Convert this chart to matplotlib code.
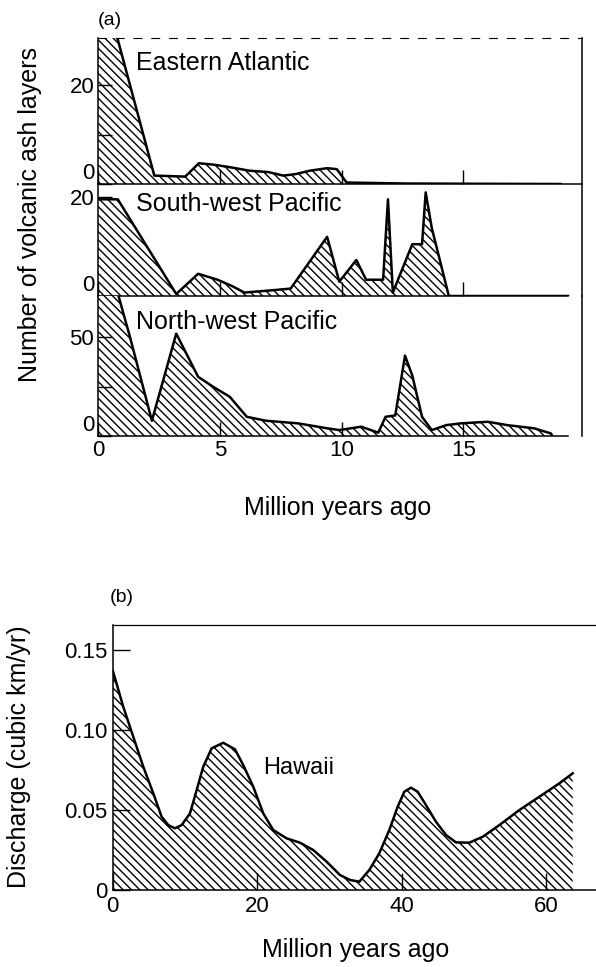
import numpy as np
import matplotlib
matplotlib.use("Agg")
import matplotlib.pyplot as plt

plt.rcParams['font.family'] = ['Liberation Sans', 'DejaVu Sans']
plt.rcParams['hatch.linewidth'] = 1.0

# ---- data ----
# (a) number of volcanic ash layers vs million years ago
ea_x = [0, 0.7, 2.3, 3.57, 4.13, 4.76, 5.4, 6.2, 7.0, 7.6, 8.1, 8.7, 9.4, 9.8, 10.2, 12.7, 19.0]
ea_y = [33, 31, 1.7, 1.5, 4.2, 3.9, 3.4, 2.7, 2.4, 1.7, 2.0, 2.7, 3.2, 3.0, 0.3, 0.1, 0]

sw_x = [0, 0.8, 3.2, 4.1, 4.9, 5.5, 6.0, 7.0, 7.9, 9.4, 9.9, 10.6, 11.0, 11.7, 11.9, 12.1,
        12.9, 13.3, 13.45, 13.7, 14.4, 19.3]
sw_y = [19.6, 19.6, 0.4, 4.5, 3.3, 2.0, 0.7, 1.1, 1.5, 12.0, 2.9, 7.3, 3.3, 3.3, 19.6, 0.7,
        10.5, 10.5, 21.0, 13.8, 0, 0]

nw_x = [0, 0.8, 1.3, 2.2, 3.2, 4.1, 4.7, 5.4, 6.1, 6.9, 8.2, 9.4, 9.9, 10.8, 11.5, 11.8,
        12.2, 12.6, 12.9, 13.3, 13.7, 14.3, 14.9, 16.0, 16.8, 17.9, 18.6, 18.65]
nw_y = [74, 72, 50, 7.7, 51.7, 29.9, 25, 19.8, 9.7, 7.7, 6.4, 3.9, 3.0, 4.7, 1.7, 9.7,
        10.4, 40.6, 30.5, 9.7, 3.0, 5.5, 6.4, 7.2, 5.5, 3.9, 1.3, 0]

# (b) Hawaii discharge (cubic km/yr) vs million years ago
hw_x = [0, 1.47, 2.85, 4.24, 5.63, 6.78, 7.70, 8.62, 9.55, 10.7, 11.63, 12.54, 13.7,
        15.31, 16.93, 18.08, 19.46, 20.85, 22.23, 24.09, 25.93, 27.77, 29.62, 31.46,
        32.85, 34.14, 35.52, 36.9, 38.29, 39.45, 40.37, 41.29, 42.22, 43.37, 44.75,
        46.14, 47.52, 49.36, 51.22, 53.52, 56.28, 59.05, 61.82, 63.68]
hw_y = [0.1375, 0.1146, 0.0959, 0.0771, 0.0604, 0.0458, 0.0406, 0.0386, 0.0406, 0.0479,
        0.0625, 0.0771, 0.0886, 0.0921, 0.088, 0.0781, 0.0646, 0.0479, 0.0375, 0.0323,
        0.0296, 0.025, 0.0177, 0.0094, 0.0063, 0.0052, 0.0125, 0.0229, 0.0375, 0.0521,
        0.0615, 0.064, 0.0615, 0.0531, 0.0427, 0.0344, 0.0298, 0.0296, 0.0333, 0.0406,
        0.05, 0.0583, 0.0667, 0.073]

a_names = ["Eastern Atlantic", "South-west Pacific", "North-west Pacific"]
a_series = [(ea_x, ea_y), (sw_x, sw_y), (nw_x, nw_y)]
a_ylims = [(0, 29.5), (0, 22.7), (0, 70.7)]
a_yticks = [[0, 20], [0, 20], [0, 50]]
a_yminor = [[10], [], [25]]
a_label_y = [24.4, 18.6, 57.6]

# axes rectangles in figure fraction (left, bottom, width, height)
a_rects = [(0.165, 0.8097, 0.811, 0.151),
           (0.165, 0.6939, 0.811, 0.1158),
           (0.165, 0.5491, 0.811, 0.1448)]

HATCH = '\\' * 4

fig = plt.figure(figsize=(5.96, 9.67), dpi=100)


def shade(ax, x, y):
    ax.fill_between(x, y, 0, facecolor='white', edgecolor='black', hatch=HATCH, linewidth=0)
    ax.plot(x, y, color='black', lw=1.8, solid_joinstyle='round')


for i in range(3):
    ax = fig.add_axes(a_rects[i])
    x, y = a_series[i]
    shade(ax, x, y)
    ax.set_xlim(0, 19.86)
    ax.set_ylim(*a_ylims[i])
    ax.set_yticks(a_yticks[i])
    ax.set_yticklabels([str(t) for t in a_yticks[i]])
    ax.set_yticks(a_yminor[i], minor=True)
    ax.set_xticks([0, 5, 10, 15])
    ax.tick_params(direction='in', length=10, width=1, labelsize=16, pad=3)
    ax.tick_params(which='minor', direction='in', length=10, width=1)
    # zero labels sit a little above the baseline, as in the original
    for lbl in ax.get_yticklabels():
        if lbl.get_text() == '0':
            lbl.set_verticalalignment('bottom')
    ax.text(1.55, a_label_y[i], a_names[i], fontsize=18, va='center', ha='left')
    for s in ax.spines.values():
        s.set_linewidth(1.1)
    if i > 0:
        ax.spines['top'].set_visible(False)
        ax.spines['bottom'].set_bounds(0, 19.3)
    else:
        ax.spines['top'].set_linestyle((0, (7, 9)))
        ax.spines['top'].set_linewidth(0.8)
    if i < 2:
        ax.tick_params(labelbottom=False)
    ax.patch.set_alpha(0)

fig.text(0.185, 0.979, "(a)", fontsize=14, ha='center', va='center')
fig.text(0.05, 0.778, "Number of volcanic ash layers", rotation=90, fontsize=18,
         ha='center', va='center')
fig.text(0.567, 0.4747, "Million years ago", fontsize=18, ha='center', va='center')

# (b) Hawaii
axb = fig.add_axes((0.189, 0.0796, 0.811, 0.274))
shade(axb, hw_x, hw_y)
axb.set_xlim(0, 66.9)
axb.set_ylim(0, 0.1657)
axb.set_xticks([0, 20, 40, 60])
axb.set_yticks([0, 0.05, 0.10, 0.15])
axb.set_yticklabels(['0', '0.05', '0.10', '0.15'])
axb.tick_params(direction='in', length=12, width=1, labelsize=16, pad=4)
axb.spines['right'].set_visible(False)
axb.spines['top'].set_linewidth(0.9)
axb.spines['left'].set_linewidth(1.1)
axb.spines['bottom'].set_linewidth(1.1)
axb.text(20.8, 0.0763, "Hawaii", fontsize=17, ha='left', va='center')
fig.text(0.597, 0.0176, "Million years ago", fontsize=18, ha='center', va='center')
fig.text(0.032, 0.217, "Discharge (cubic km/yr)", rotation=90, fontsize=18,
         ha='center', va='center')
fig.text(0.205, 0.382, "(b)", fontsize=14, ha='center', va='center')

fig.savefig("out.png", dpi=100)
